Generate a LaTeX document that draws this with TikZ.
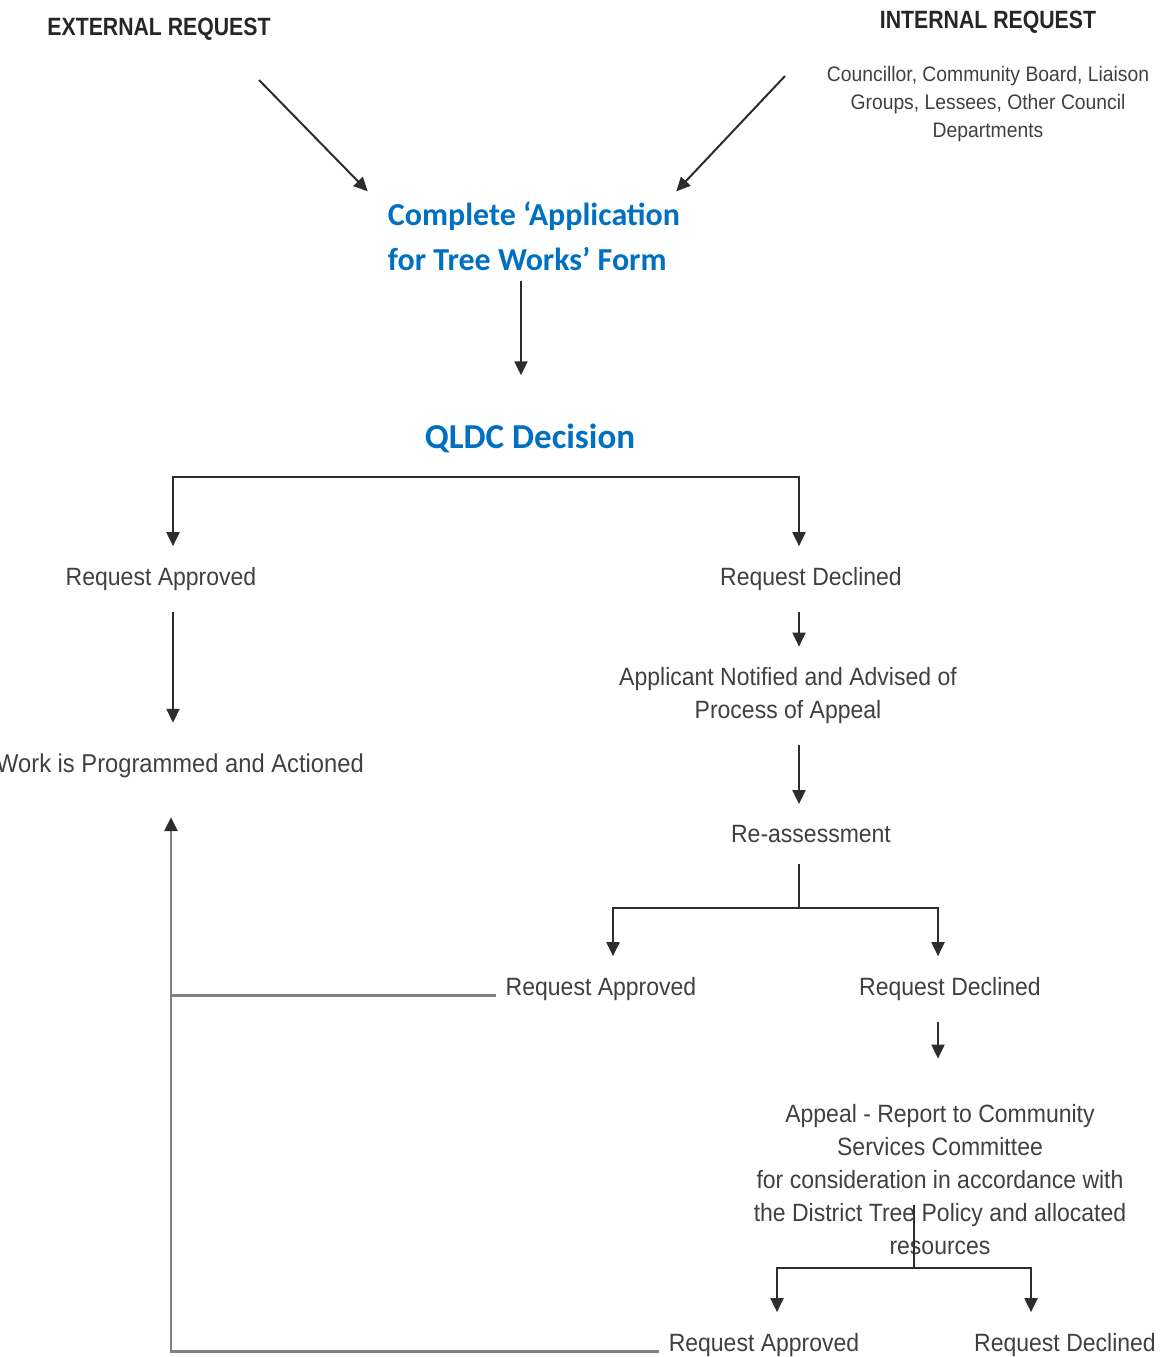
\documentclass[tikz,border=0pt]{standalone}
\usepackage{fontspec}
\usepackage{tikz}
\usetikzlibrary{arrows.meta}
\usetikzlibrary{positioning}

\newfontfamily\bodyfont{Liberation Sans}[FakeStretch=0.92]
\newfontfamily\headfont{Liberation Sans}[FakeStretch=0.85]
\newfontfamily\bluefont{Carlito}

\definecolor{qblue}{RGB}{0,112,192}
\definecolor{txtgray}{RGB}{64,64,64}
\definecolor{headgray}{RGB}{38,38,38}
\definecolor{linegray}{RGB}{45,45,45}
\definecolor{fbgray}{RGB}{128,128,128}

\tikzset{
  txt/.style={font=\bodyfont\fontsize{25}{33}\selectfont, text=txtgray,
    inner xsep=10pt, inner ysep=21pt, align=center},
  small/.style={font=\bodyfont\fontsize{21}{28}\selectfont, text=txtgray, align=center},
  head/.style={font=\headfont\bfseries\fontsize{25}{30}\selectfont, text=headgray},
  formtxt/.style={font=\bluefont\bfseries\fontsize{32}{45}\selectfont, text=qblue,
    align=left, inner sep=10pt},
  arr/.style={draw=linegray, line width=2pt},
  fb/.style={draw=fbgray, line width=2.6pt},
}

\begin{document}
\begin{tikzpicture}[x=1pt, y=-1pt, >={Triangle[length=14pt,width=13pt]}]
\useasboundingbox (0,0) rectangle (1164,1357);

% requests
\node[head] (ext) at (159,29) {EXTERNAL REQUEST};
\node[head] (int) at (988,22) {INTERNAL REQUEST};
\node[small] (intsub) at (988,104) {Councillor, Community Board, Liaison\\Groups, Lessees, Other Council\\Departments};
\node[formtxt] (form) at (534,236) {Complete ‘Application\\for Tree Works’ Form};
\coordinate (e0) at (259,80);
\coordinate (i0) at (785,76);
\draw[arr,->] (e0) -- ([shift={(-10,0)}]form.north west);
\draw[arr,->] (i0) -- ([xshift=-14pt]form.north east);

% decision
\node[formtxt,font=\bluefont\bfseries\fontsize{35}{40}\selectfont,inner ysep=48pt] (qldc) at (530,438) {QLDC Decision};
\draw[arr,->] ([xshift=-13pt]form.south) -- ([xshift=-13pt]form.south |- qldc.north);
\coordinate (qbar) at (486,477);

\node[txt] (ra1) at (161,579) {Request Approved};
\node[txt] (rd1) at (811,579) {Request Declined};
\draw[arr,<->] ([xshift=12pt]ra1.north) |- (qbar) -| ([xshift=-12pt]rd1.north);

\node[txt,anchor=east,inner ysep=31pt,font=\bodyfont\fontsize{25.8}{33}\selectfont] (work) at (374,766) {Work is Programmed and Actioned};
\draw[arr,->] ([xshift=12pt]ra1.south) -- ([xshift=12pt]ra1.south |- work.north);

% appeal path
\node[txt] (notif) at (788,696) {Applicant Notified and Advised of\\Process of Appeal};
\draw[arr,->] ([xshift=-12pt]rd1.south) -- ([xshift=-12pt]rd1.south |- notif.north);
\node[txt] (reass) at (811,834) {Re-assessment};
\draw[arr,->] ([xshift=-12pt]reass.north |- notif.south) -- ([xshift=-12pt]reass.north);
\coordinate (rbar) at (799,908);
\draw[arr] ([xshift=-12pt]reass.south) -- (rbar);

\node[txt] (ra2) at (601,989) {Request Approved};
\node[txt] (rd2) at (950,989) {Request Declined};
\draw[arr,<->] ([xshift=12pt]ra2.north) |- (rbar) -| ([xshift=-12pt]rd2.north);

\node[txt,inner ysep=46pt] (appeal) at (940,1180) {Appeal - Report to Community\\Services Committee\\for consideration in accordance with\\the District Tree Policy and allocated\\resources};
\draw[arr,->] ([xshift=-12pt]rd2.south) -- ([xshift=-12pt]rd2.south |- appeal.north);
\coordinate (ap) at (914,1205);
\coordinate (apbar) at (914,1268);
\draw[arr] (ap) -- (apbar);

\node[txt] (ra3) at (764,1345) {Request Approved};
\node[txt] (rd3) at (1065,1345) {Request Declined};
\draw[arr,<->] ([xshift=13pt]ra3.north) |- (apbar) -| ([xshift=-34pt]rd3.north);

% back to work
\coordinate (fx) at (171,1353);
\draw[fb] (ra2.base west) -- (ra2.base west -| fx);
\draw[fb,-{Triangle[length=14pt,width=13pt,color=linegray]},shorten >=8pt] (ra3.base west) -| (fx |- work.south);
\end{tikzpicture}
\end{document}
